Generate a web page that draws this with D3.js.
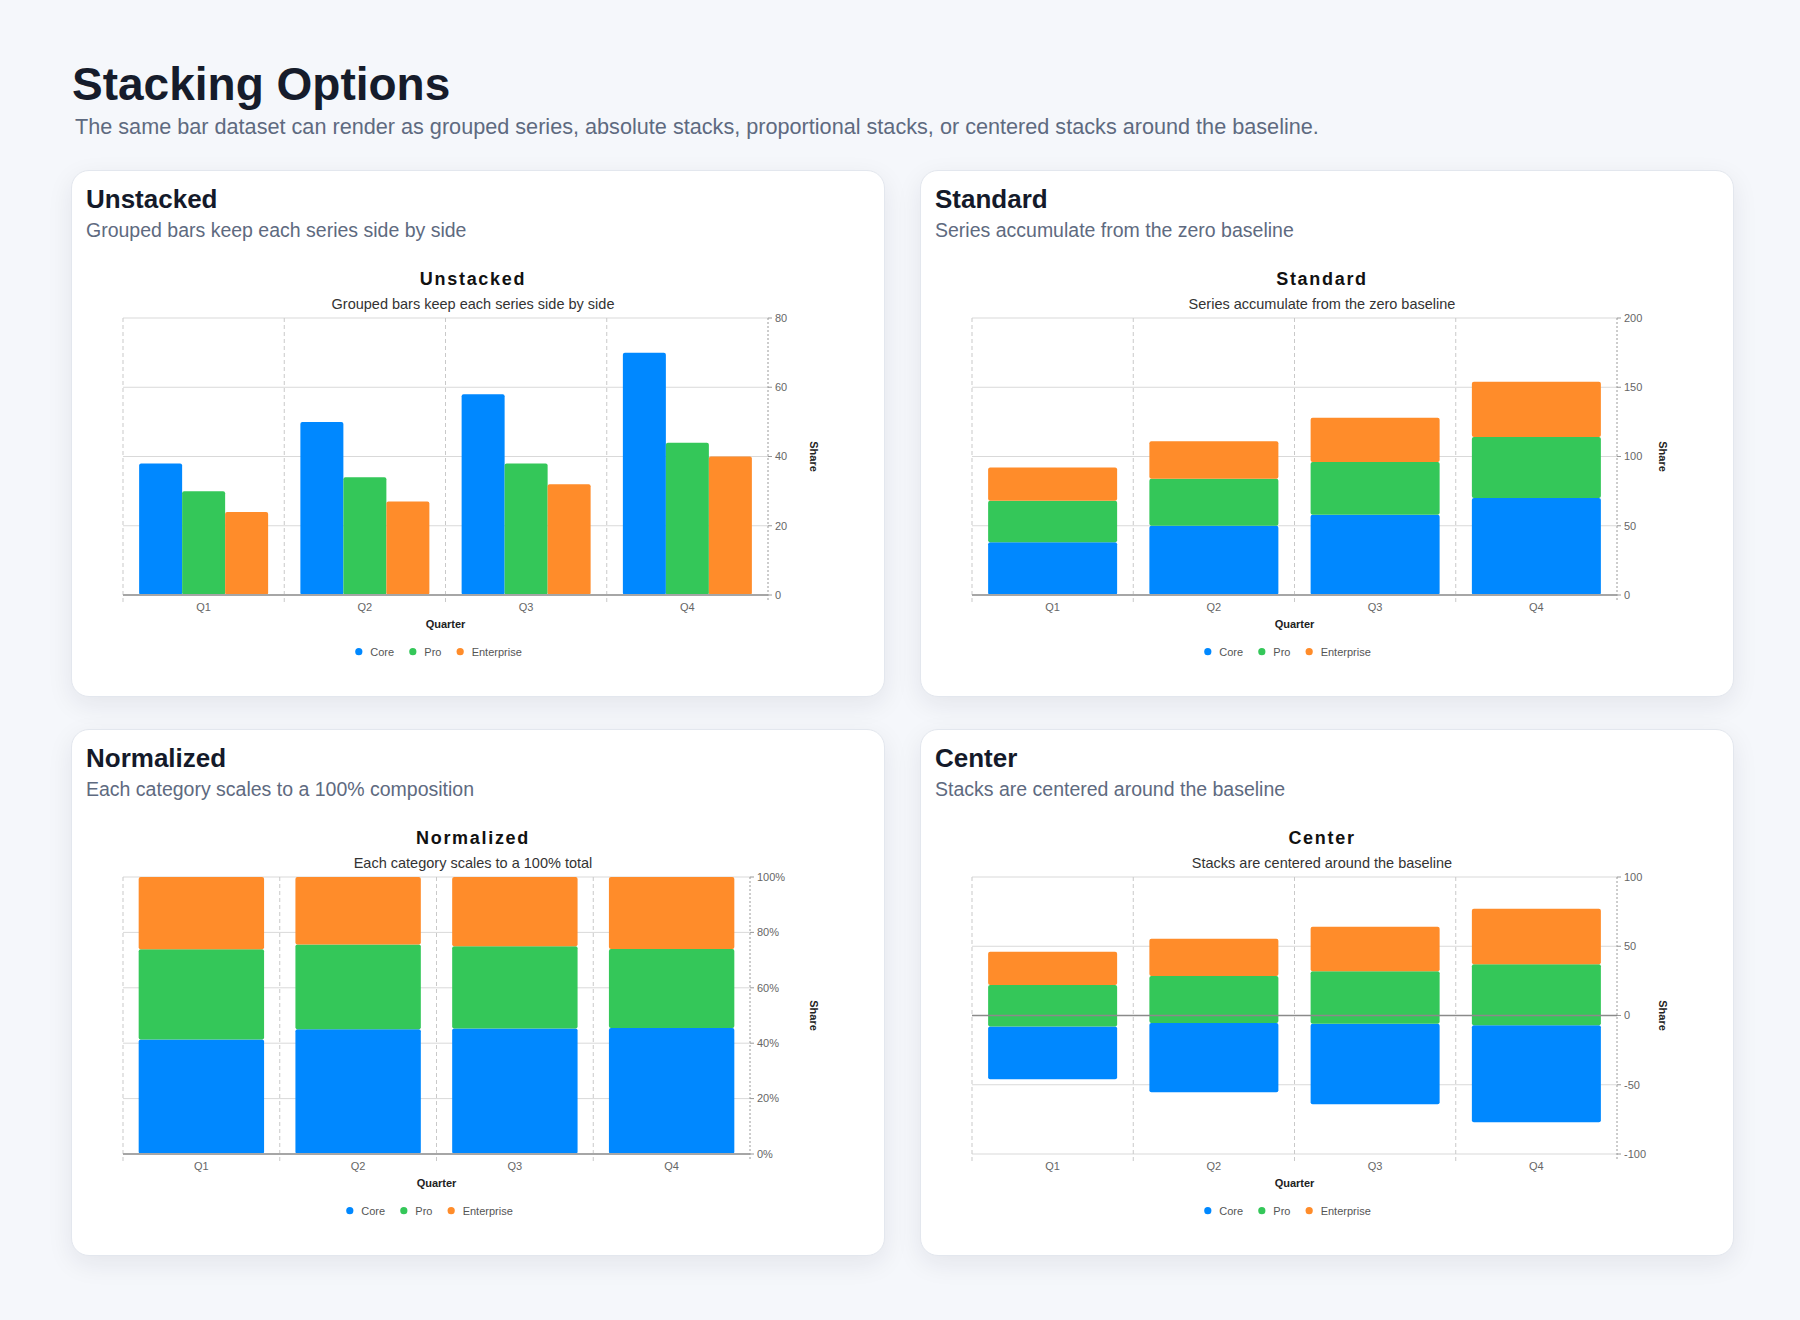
<!DOCTYPE html>
<html>
<head>
<meta charset="utf-8">
<title>Stacking Options</title>
<script src="https://cdn.jsdelivr.net/npm/d3@7"></script>
<style>
body { margin: 0; background: #f5f7fb; font-family: "Liberation Sans", Arial, Helvetica, sans-serif; }
#page { position: relative; width: 1800px; height: 1320px; overflow: hidden; }
h1 { position: absolute; left: 72px; top: 61px; margin: 0; font-size: 46px; line-height: 1; font-weight: 700; color: #161c2b; }
.lede { position: absolute; left: 75px; top: 116px; margin: 0; font-size: 21.65px; line-height: 1; color: #5e6a80; white-space: nowrap; }
.card { position: absolute; width: 814px; height: 527px; background: #fff; border: 1px solid #e3e7ee; border-radius: 18px;
        box-shadow: 0 8px 26px rgba(20, 30, 55, 0.08); box-sizing: border-box; }
.card h2 { position: absolute; left: 14px; top: 15px; margin: 0; font-size: 26px; line-height: 1; font-weight: 700; color: #141a2a; }
.card p { position: absolute; left: 14px; top: 50px; margin: 0; font-size: 19.5px; line-height: 1; color: #5e6a80; white-space: nowrap; }
.card svg { position: absolute; left: 14px; top: -1px; }
</style>
</head>
<body>
<div id="page">
  <h1>Stacking Options</h1>
  <div class="lede">The same bar dataset can render as grouped series, absolute stacks, proportional stacks, or centered stacks around the baseline.</div>
</div>
<script>
// data
var quarters = ["Q1", "Q2", "Q3", "Q4"];
var seriesNames = ["Core", "Pro", "Enterprise"];
var coreValues = [38, 50, 58, 70];
var proValues = [30, 34, 38, 44];
var enterpriseValues = [24, 27, 32, 40];
var seriesColors = ["#0088ff", "#34c759", "#ff8c2a"];

var unstackedTicks = [0, 20, 40, 60, 80];
var standardTicks = [0, 50, 100, 150, 200];
var normalizedTicks = [0, 0.2, 0.4, 0.6, 0.8, 1];
var centerTicks = [-100, -50, 0, 50, 100];

var panels = [
    { mode: "grouped", title: "Unstacked", sub: "Grouped bars keep each series side by side",
      chartSub: "Grouped bars keep each series side by side", ticks: unstackedTicks, left: 71, top: 170 },
    { mode: "standard", title: "Standard", sub: "Series accumulate from the zero baseline",
      chartSub: "Series accumulate from the zero baseline", ticks: standardTicks, left: 920, top: 170 },
    { mode: "normalized", title: "Normalized", sub: "Each category scales to a 100% composition",
      chartSub: "Each category scales to a 100% total", ticks: normalizedTicks, left: 71, top: 729 },
    { mode: "center", title: "Center", sub: "Stacks are centered around the baseline",
      chartSub: "Stacks are centered around the baseline", ticks: centerTicks, left: 920, top: 729 }
];

var rows = quarters.map(function(q, i) {
    return { quarter: q, Core: coreValues[i], Pro: proValues[i], Enterprise: enterpriseValues[i] };
});

var color = d3.scaleOrdinal().domain(seriesNames).range(seriesColors);

var W = 774, H = 523;

panels.forEach(function(p) {
    var card = d3.select("#page").append("div")
        .attr("class", "card")
        .style("left", p.left + "px")
        .style("top", p.top + "px");
    card.append("h2").text(p.title);
    card.append("p").text(p.sub);
    drawChart(card, p);
});

function drawChart(card, p) {
    var margin = { top: 148, bottom: 98, left: 37, right: p.mode == "normalized" ? 110 : 92 };
    var width = W - margin.left - margin.right;
    var height = H - margin.top - margin.bottom;

    var svg = card.append("svg").attr("width", W).attr("height", H);

    svg.append("text")
        .attr("x", W / 2).attr("y", 115)
        .attr("text-anchor", "middle")
        .attr("font-size", 18).attr("font-weight", 700)
        .attr("letter-spacing", 1.7)
        .attr("fill", "#111")
        .text(p.title);
    svg.append("text")
        .attr("x", W / 2).attr("y", 139)
        .attr("text-anchor", "middle")
        .attr("font-size", 14.5)
        .attr("fill", "#333")
        .text(p.chartSub);

    var g = svg.append("g").attr("transform", "translate(" + margin.left + "," + margin.top + ")");

    var x = d3.scaleBand().domain(quarters).range([0, width]).padding(0);
    var y = d3.scaleLinear()
        .domain([d3.min(p.ticks), d3.max(p.ticks)])
        .range([height, 0]);
    var fmt = p.mode == "normalized" ? d3.format(".0%") : function(d) { return String(d); };

    // horizontal grid
    g.selectAll(".hgrid").data(p.ticks).enter().append("line")
        .attr("x1", 0).attr("x2", width)
        .attr("y1", function(d) { return y(d); })
        .attr("y2", function(d) { return y(d); })
        .attr("stroke", "#d9d9d9").attr("stroke-width", 1);

    // vertical dashed band edges
    var edges = quarters.map(function(q) { return x(q); });
    g.selectAll(".vgrid").data(edges).enter().append("line")
        .attr("x1", function(d) { return d; }).attr("x2", function(d) { return d; })
        .attr("y1", 0).attr("y2", height + 7)
        .attr("stroke", "#c9c9c9").attr("stroke-dasharray", "4,3");

    // bars
    var bw = x.bandwidth();
    if (p.mode == "grouped") {
        var x1 = d3.scaleBand().domain(seriesNames).range([bw * 0.1, bw * 0.9]).padding(0);
        g.selectAll(".grp").data(rows).enter().append("g")
            .attr("transform", function(d) { return "translate(" + x(d.quarter) + ",0)"; })
            .selectAll("rect")
            .data(function(d) { return seriesNames.map(function(k) { return { key: k, value: d[k] }; }); })
            .enter().append("rect")
            .attr("x", function(d) { return x1(d.key); })
            .attr("width", x1.bandwidth())
            .attr("y", function(d) { return y(d.value); })
            .attr("height", function(d) { return y(0) - y(d.value); })
            .attr("rx", 2)
            .attr("fill", function(d) { return color(d.key); });
    } else {
        var offset = p.mode == "normalized" ? d3.stackOffsetExpand
            : p.mode == "center" ? d3.stackOffsetSilhouette : d3.stackOffsetNone;
        var stacked = d3.stack().keys(seriesNames).offset(offset)(rows);
        g.selectAll(".layer").data(stacked).enter().append("g")
            .attr("fill", function(d) { return color(d.key); })
            .selectAll("rect")
            .data(function(d) { return d; })
            .enter().append("rect")
            .attr("x", function(d) { return x(d.data.quarter) + bw * 0.1; })
            .attr("width", bw * 0.8)
            .attr("y", function(d) { return y(d[1]); })
            .attr("height", function(d) { return y(d[0]) - y(d[1]); })
            .attr("rx", 2);
    }

    // baseline
    var base = p.mode == "center" ? 0 : d3.min(p.ticks);
    g.append("line")
        .attr("x1", 0).attr("x2", width)
        .attr("y1", y(base)).attr("y2", y(base))
        .attr("stroke", p.mode == "center" ? "#8a8a8a" : "#a6a6a6")
        .attr("stroke-width", p.mode == "center" ? 1.5 : 2);

    // right axis
    g.append("line")
        .attr("x1", width).attr("x2", width)
        .attr("y1", 0).attr("y2", height + 7)
        .attr("stroke", "#9a9a9a").attr("stroke-dasharray", "2,2");
    g.selectAll(".ytick").data(p.ticks).enter().append("line")
        .attr("x1", width).attr("x2", width + 4)
        .attr("y1", function(d) { return y(d); })
        .attr("y2", function(d) { return y(d); })
        .attr("stroke", "#9a9a9a");
    g.selectAll(".ylab").data(p.ticks).enter().append("text")
        .attr("x", width + 7)
        .attr("y", function(d) { return y(d); })
        .attr("dy", "0.35em")
        .attr("font-size", 11).attr("fill", "#666")
        .text(fmt);

    svg.append("text")
        .attr("transform", "translate(" + (W - 50.5) + "," + (margin.top + height / 2) + ") rotate(90)")
        .attr("text-anchor", "middle")
        .attr("font-size", 11).attr("font-weight", 700)
        .attr("fill", "#222")
        .text("Share");

    // x labels
    g.selectAll(".xlab").data(quarters).enter().append("text")
        .attr("x", function(d) { return x(d) + bw / 2; })
        .attr("y", height + 16)
        .attr("text-anchor", "middle")
        .attr("font-size", 11).attr("fill", "#666")
        .text(function(d) { return d; });
    g.append("text")
        .attr("x", width / 2).attr("y", height + 33)
        .attr("text-anchor", "middle")
        .attr("font-size", 11).attr("font-weight", 700)
        .attr("fill", "#222")
        .text("Quarter");

    // legend
    var legend = g.append("g");
    var cx = 0;
    seriesNames.forEach(function(name) {
        var item = legend.append("g").attr("transform", "translate(" + cx + ",0)");
        item.append("circle").attr("r", 3.6).attr("fill", color(name));
        var t = item.append("text")
            .attr("x", 11.5).attr("dy", "0.35em")
            .attr("font-size", 11).attr("fill", "#555")
            .text(name);
        cx += 11.5 + t.node().getComputedTextLength() + 18.7;
    });
    var legendWidth = cx - 18.7 + 3.6;
    legend.attr("transform", "translate(" + (width / 2 - 7 - legendWidth / 2 + 3.6) + "," + (height + 56.7) + ")");
}
</script>
</body>
</html>
